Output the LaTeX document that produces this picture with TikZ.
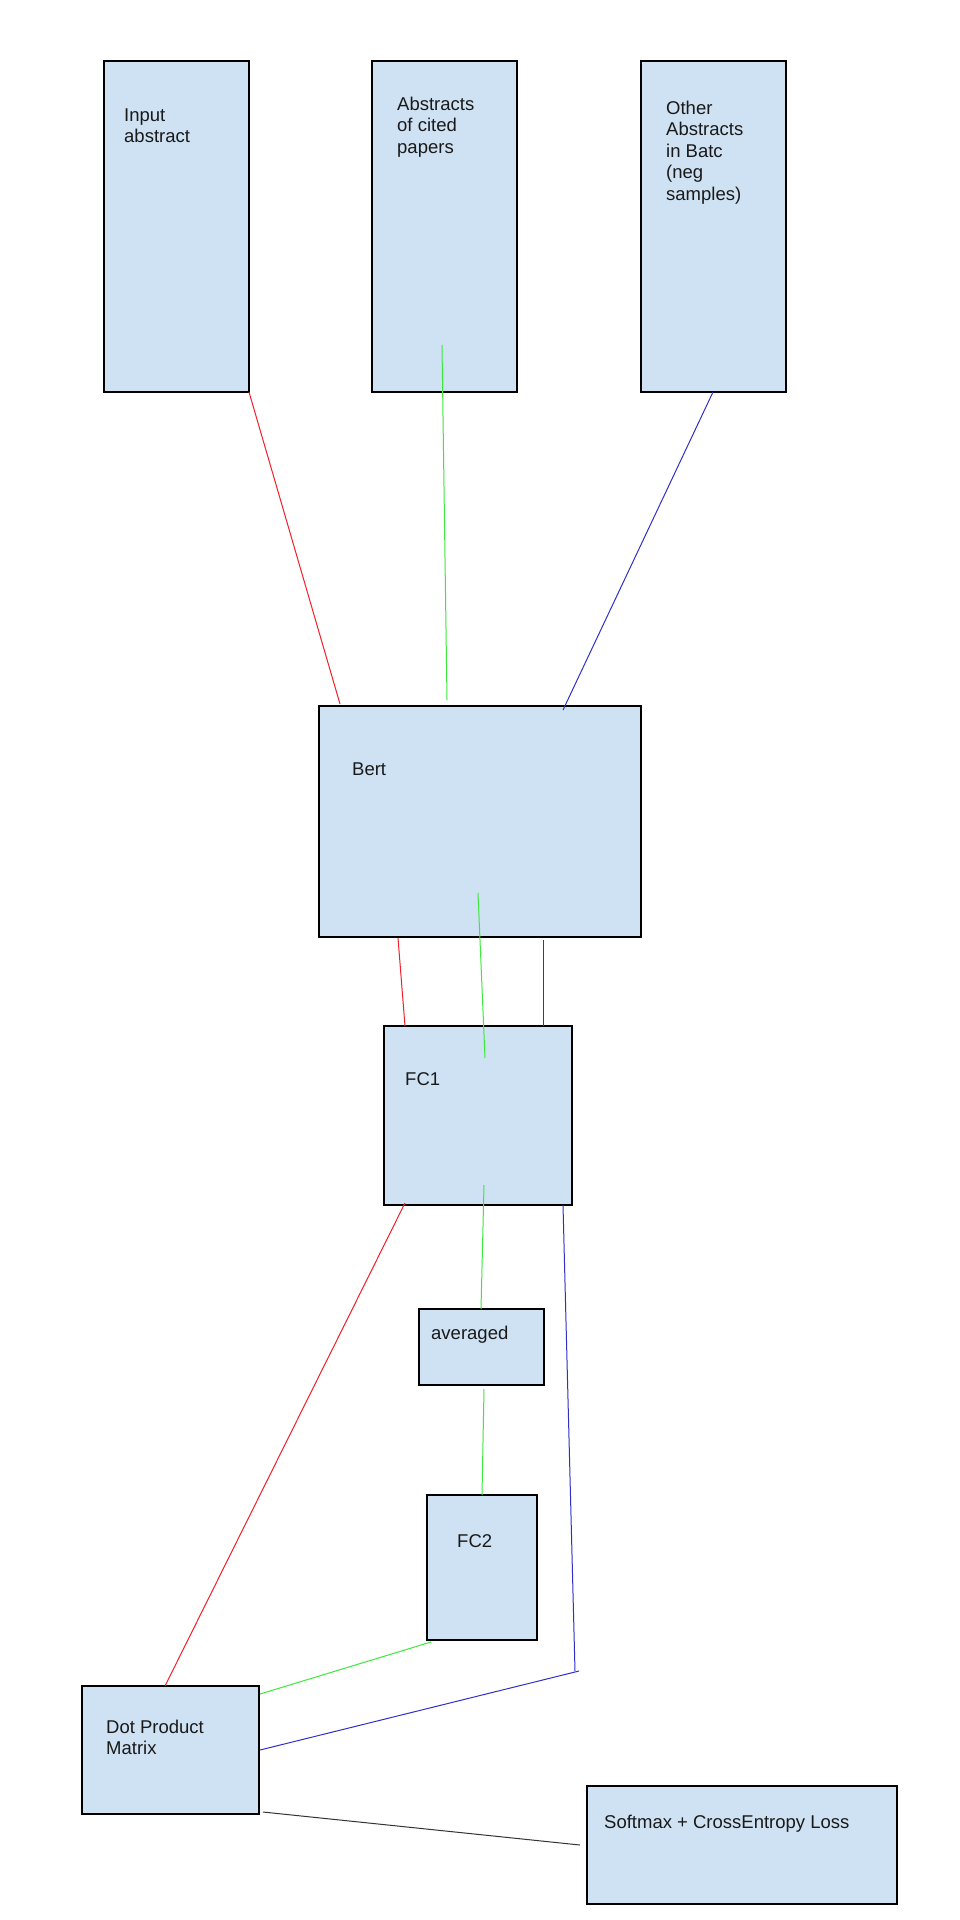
\documentclass[tikz,border=0pt]{standalone}
\usepackage{fontspec}
\setmainfont{Liberation Sans}
\begin{document}
\begin{tikzpicture}[x=1pt,y=-1pt,
  box/.style={draw=black,line width=1.1pt,fill=boxblue,inner sep=0pt},
  lbl/.style={anchor=base west,inner sep=0pt,align=left,font=\fontsize{18.5pt}{21.5pt}\selectfont,text=black!90},
  wire/.style={line width=1pt}]
\definecolor{boxblue}{HTML}{CFE2F3}
\definecolor{wred}{HTML}{F0202A}
\definecolor{wgreen}{HTML}{3CE83C}
\definecolor{wblue}{HTML}{3030C8}
\useasboundingbox[fill=white] (0,0) rectangle (960,1920);
% boxes
\path[box] (104,61) rectangle (249,392) node[pos=.5] (inp) {};
\path[box] (372,61) rectangle (517,392) node[pos=.5] (cit) {};
\path[box] (641,61) rectangle (786,392) node[pos=.5] (oth) {};
\path[box] (319,706) rectangle (641,937) node[pos=.5] (bert) {};
\path[box] (384,1026) rectangle (572,1205) node[pos=.5] (fc1) {};
\path[box] (419,1309) rectangle (544,1385) node[pos=.5] (avg) {};
\path[box] (427,1495) rectangle (537,1640) node[pos=.5] (fc2) {};
\path[box] (82,1686) rectangle (259,1814) node[pos=.5] (dot) {};
\path[box] (587,1786) rectangle (897,1904) node[pos=.5] (soft) {};
% labels (anchored at the baseline of their last line)
\node[lbl] (tinp) at (124,142.5) {Input\\abstract};
\node[lbl] (tcit) at (397,153) {Abstracts\\of cited\\papers};
\node[lbl] (toth) at (666,200) {Other\\Abstracts\\in Batc\\(neg\\samples)};
\node[lbl] (tbert) at (352,775) {Bert};
\node[lbl] (tfc1) at (405,1085) {FC1};
\node[lbl] (tavg) at (431,1339) {averaged};
\node[lbl] (tfc2) at (457,1547) {FC2};
\node[lbl] (tdot) at (106,1754.5) {Dot Product\\Matrix};
\node[lbl] (tsoft) at (604,1828) {Softmax + CrossEntropy Loss};
% connector end points
\coordinate (r1a) at (249,392); \coordinate (r1b) at (340,704);
\coordinate (g1a) at (442,345); \coordinate (g1b) at (447,700);
\coordinate (b1a) at (713,392); \coordinate (b1b) at (563,710);
\coordinate (r2a) at (398,938); \coordinate (r2b) at (405,1026);
\coordinate (g2a) at (478,893); \coordinate (g2b) at (485,1058);
\coordinate (b2a) at (543,940); \coordinate (b2b) at (543,1026);
\coordinate (r3a) at (405,1203); \coordinate (r3b) at (165,1686);
\coordinate (g3a) at (484,1185); \coordinate (g3b) at (481,1309);
\coordinate (b3a) at (563,1205); \coordinate (b3b) at (575,1671);
\coordinate (g4a) at (484,1389); \coordinate (g4b) at (482,1495);
\coordinate (g5a) at (431,1642); \coordinate (g5b) at (260,1694);
\coordinate (b4a) at (579,1671); \coordinate (b4b) at (260,1750);
\coordinate (k1a) at (263,1812); \coordinate (k1b) at (580,1845);
% connectors
\draw[wire,wred] (r1a) -- (r1b);
\draw[wire,wgreen] (g1a) -- (g1b);
\draw[wire,wblue] (b1a) -- (b1b);
\draw[wire,wred] (r2a) -- (r2b);
\draw[wire,wgreen] (g2a) -- (g2b);
\draw[wire,wblue] (b2a) -- (b2b);
\draw[wire,wred] (r3a) -- (r3b);
\draw[wire,wgreen] (g3a) -- (g3b);
\draw[wire,wblue] (b3a) -- (b3b);
\draw[wire,wgreen] (g4a) -- (g4b);
\draw[wire,wgreen] (g5a) -- (g5b);
\draw[wire,wblue] (b4a) -- (b4b);
\draw[wire,black!80] (k1a) -- (k1b);
\end{tikzpicture}
\end{document}
